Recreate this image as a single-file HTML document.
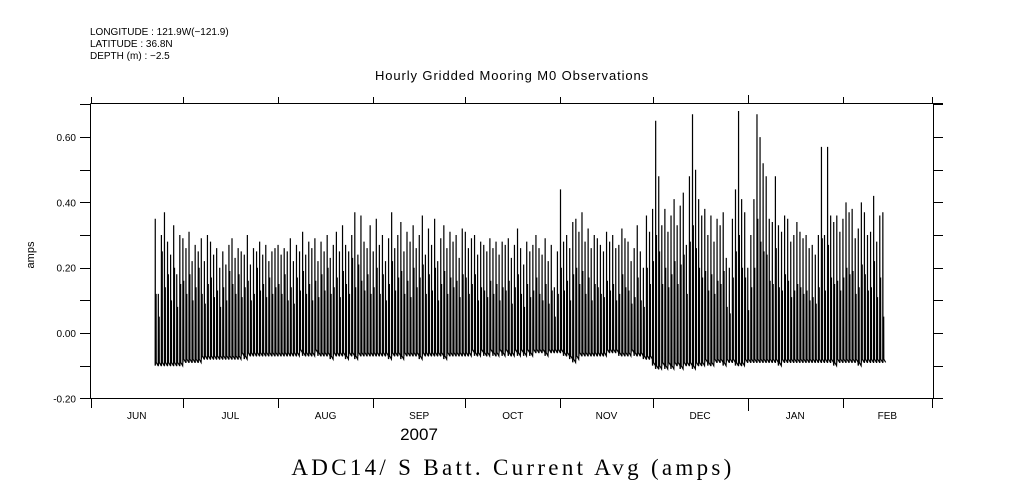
<!DOCTYPE html>
<html><head><meta charset="utf-8"><style>
html,body{margin:0;padding:0;background:#fff;}
svg{display:block;font-family:"Liberation Sans",sans-serif;}
</style></head><body>
<svg id="chart" width="1009" height="504" viewBox="0 0 1009 504" xmlns="http://www.w3.org/2000/svg">
<rect width="1009" height="504" fill="#fff"/>
<g font-size="10" fill="#000">
<text x="90" y="35">LONGITUDE : 121.9W(−121.9)</text>
<text x="90" y="47">LATITUDE : 36.8N</text>
<text x="90" y="59">DEPTH (m) : −2.5</text>
</g>
<text x="512" y="80" font-size="13" letter-spacing="0.9" text-anchor="middle">Hourly Gridded Mooring M0 Observations</text>
<text transform="translate(34,255) rotate(-90)" font-size="11" text-anchor="middle">amps</text>
<text x="419" y="440" font-size="17" text-anchor="middle">2007</text>
<text x="513" y="475" font-size="23" letter-spacing="3.3" text-anchor="middle" font-family="Liberation Serif,serif">ADC14/ S Batt. Current Avg (amps)</text>
<g id="axes" stroke="#000" stroke-width="1" fill="none"></g>
<g id="labels" font-size="10" fill="#000"></g>
<path id="series" fill="none" stroke="#000" stroke-width="1.2"/>
</svg>
<script>
const yTicks=[0.6,0.4,0.2,0.0,-0.2];
const yTickLabels=["0.60","0.40","0.20","0.00","-0.20"];
const months=["JUN","JUL","AUG","SEP","OCT","NOV","DEC","JAN","FEB"];
const monthStarts=[0,30,61,92,122,153,183,214,245,274];
const startDay=21;
const peaks=[.35,.12,.30,.37,.28,.24,.33,.18,.30,
.29,.26,.31,.22,.27,.25,.29,.22,.30,.28,.24,.26,.20,.25,.21,.27,.29,.23,.26,.25,.24,.30,.21,.26,.25,.28,.24,.27,.22,.25,.26,
.27,.24,.26,.25,.29,.22,.27,.25,.31,.24,.28,.26,.29,.22,.28,.25,.30,.23,.27,.31,.25,.33,.27,.25,.30,.37,.24,.36,.28,.26,.33,
.25,.35,.27,.30,.22,.29,.37,.26,.30,.34,.25,.31,.28,.33,.26,.30,.36,.24,.32,.27,.35,.22,.29,.33,.26,.31,.28,.30,.23,.32,
.31,.26,.29,.30,.24,.28,.27,.25,.29,.26,.28,.24,.28,.27,.29,.23,.27,.32,.26,.21,.28,.25,.27,.30,.26,.24,.29,.22,.27,.14,.25,
.44,.28,.30,.26,.34,.35,.31,.37,.28,.32,.26,.30,.29,.27,.25,.31,.28,.30,.26,.27,.32,.29,.28,.22,.26,.33,.25,.20,.36,.31,
.38,.65,.48,.33,.38,.31,.36,.41,.33,.39,.43,.27,.48,.67,.50,.41,.36,.38,.30,.36,.28,.35,.33,.37,.23,.20,.35,.44,.68,.41,.37,
.20,.30,.41,.67,.60,.52,.48,.35,.34,.48,.33,.31,.36,.35,.28,.30,.34,.31,.29,.30,.26,.27,.24,.30,.57,.30,.57,.36,.34,.36,.31,
.35,.40,.37,.38,.29,.32,.40,.37,.30,.31,.42,.28,.36,.37];
const seconds=[.12,.05,.25,.14,.18,.10,.20,.08,.15,
.16,.12,.18,.10,.14,.20,.12,.09,.15,.17,.11,.13,.08,.14,.10,.19,.15,.12,.18,.11,.14,.16,.10,.12,.20,.13,.15,.11,.17,.12,.14,
.15,.12,.18,.10,.14,.09,.17,.13,.19,.12,.15,.10,.16,.11,.18,.13,.20,.12,.14,.17,.11,.19,.15,.12,.23,.14,.21,.16,.13,.18,.12,
.14,.20,.12,.18,.10,.15,.22,.13,.17,.19,.12,.16,.11,.20,.14,.17,.21,.12,.18,.13,.20,.10,.15,.19,.12,.17,.14,.16,.11,.18,
.17,.12,.15,.18,.10,.14,.13,.11,.16,.12,.15,.10,.14,.13,.16,.09,.14,.18,.12,.08,.15,.11,.13,.17,.12,.10,.15,.09,.13,.05,.12,
.20,.13,.16,.10,.18,.20,.15,.19,.12,.17,.10,.15,.14,.12,.11,.16,.13,.15,.10,.12,.18,.14,.13,.09,.11,.17,.10,.08,.20,.15,
.22,.30,.25,.15,.20,.14,.18,.22,.15,.21,.24,.12,.28,.33,.26,.20,.17,.19,.13,.18,.12,.16,.15,.19,.08,.06,.17,.25,.30,.20,.17,
.07,.14,.20,.35,.28,.25,.24,.16,.15,.26,.14,.13,.18,.16,.11,.13,.15,.14,.12,.13,.10,.11,.09,.14,.29,.13,.27,.17,.15,.16,.13,
.17,.20,.18,.19,.12,.14,.21,.18,.13,.14,.22,.11,.17,.05];
const mins=[-.10,-.10,-.10,-.10,-.10,-.10,-.10,-.10,-.10,
-.09,-.09,-.09,-.09,-.09,-.09,-.08,-.08,-.08,-.08,-.08,-.08,-.08,-.08,-.08,-.08,-.08,-.08,-.08,-.07,-.08,-.07,-.07,-.07,-.07,-.07,-.07,-.07,-.07,-.07,-.07,
-.07,-.07,-.07,-.07,-.07,-.07,-.07,-.06,-.07,-.07,-.07,-.07,-.06,-.07,-.07,-.07,-.07,-.08,-.07,-.07,-.07,-.07,-.08,-.07,-.07,-.08,-.07,-.07,-.07,-.07,-.07,
-.07,-.07,-.07,-.07,-.07,-.08,-.07,-.07,-.07,-.08,-.07,-.07,-.07,-.07,-.07,-.08,-.07,-.07,-.07,-.07,-.07,-.07,-.07,-.08,-.07,-.07,-.07,-.07,-.07,-.07,
-.07,-.07,-.06,-.07,-.07,-.06,-.07,-.07,-.06,-.07,-.07,-.06,-.07,-.06,-.07,-.07,-.06,-.07,-.06,-.07,-.06,-.07,-.06,-.06,-.06,-.06,-.07,-.06,-.06,-.06,-.06,
-.06,-.07,-.07,-.08,-.09,-.08,-.07,-.07,-.07,-.07,-.07,-.07,-.07,-.07,-.07,-.06,-.06,-.06,-.06,-.07,-.07,-.07,-.07,-.06,-.07,-.07,-.07,-.08,-.08,-.08,
-.10,-.11,-.11,-.10,-.11,-.10,-.11,-.10,-.10,-.11,-.10,-.10,-.10,-.11,-.10,-.10,-.10,-.09,-.10,-.10,-.09,-.09,-.09,-.10,-.09,-.09,-.09,-.10,-.10,-.10,-.09,
-.09,-.09,-.09,-.09,-.09,-.09,-.09,-.09,-.09,-.09,-.10,-.09,-.09,-.09,-.09,-.09,-.09,-.09,-.09,-.09,-.09,-.09,-.09,-.09,-.09,-.09,-.09,-.09,-.10,-.09,-.09,
-.09,-.09,-.09,-.09,-.09,-.10,-.09,-.09,-.09,-.09,-.09,-.09,-.09,-.09];

const X0=90.7,PXD=3.07,Y0=333,PYV=326.5;
function xs(d){return X0+d*PXD;}
function ys(v){return Y0-v*PYV;}
const NS="http://www.w3.org/2000/svg";
const axes=document.getElementById('axes'),labels=document.getElementById('labels');
function line(x1,y1,x2,y2,name){const l=document.createElementNS(NS,'line');
l.setAttribute('x1',x1);l.setAttribute('y1',y1);l.setAttribute('x2',x2);l.setAttribute('y2',y2);


axes.appendChild(l);}
const L=90.5,R=933.5,T=103.5,B=398.5;
line(L,T,943,T,'top-axis');line(L,B,943,B,'bottom-axis');
line(L,T,L,B,'left-axis');line(R,T,R,B,'right-axis');
for(let v=-0.2;v<=0.701;v+=0.1){const y=Math.round(ys(v))+0.5;line(80,y,L,y,'y-tick-left');line(R,y,943,y,'y-tick-right');}
monthStarts.forEach((d,i)=>{const x=Math.round(xs(d))+0.5;const big=(d===214);
line(x,B,x,big?411:408,'x-tick-bottom');line(x,T,x,big?95:97,'x-tick-top');});
yTicks.forEach((v,i)=>{const t=document.createElementNS(NS,'text');t.setAttribute('x',76);t.setAttribute('y',ys(v)+4);
t.setAttribute('text-anchor','end');t.textContent=yTickLabels[i];


labels.appendChild(t);});
months.forEach((m,i)=>{const c=(xs(monthStarts[i])+xs(monthStarts[i+1]))/2;const t=document.createElementNS(NS,'text');
t.setAttribute('x',c);t.setAttribute('y',419);t.setAttribute('text-anchor','middle');t.textContent=m;


labels.appendChild(t);});
let d='';
for(let i=0;i<peaks.length;i++){const t=startDay+i;const mn=mins[i];
const pts=[[t,mn],[t+0.03,peaks[i]],[t+0.06,mn],[t+0.3,seconds[i]],[t+0.34,mn+0.01],[t+0.95,mn]];
pts.forEach((p,k)=>{d+=(i===0&&k===0?'M':'L')+xs(p[0]).toFixed(2)+' '+ys(p[1]).toFixed(2);});}
document.getElementById('series').setAttribute('d',d);
</script>
</body></html>
